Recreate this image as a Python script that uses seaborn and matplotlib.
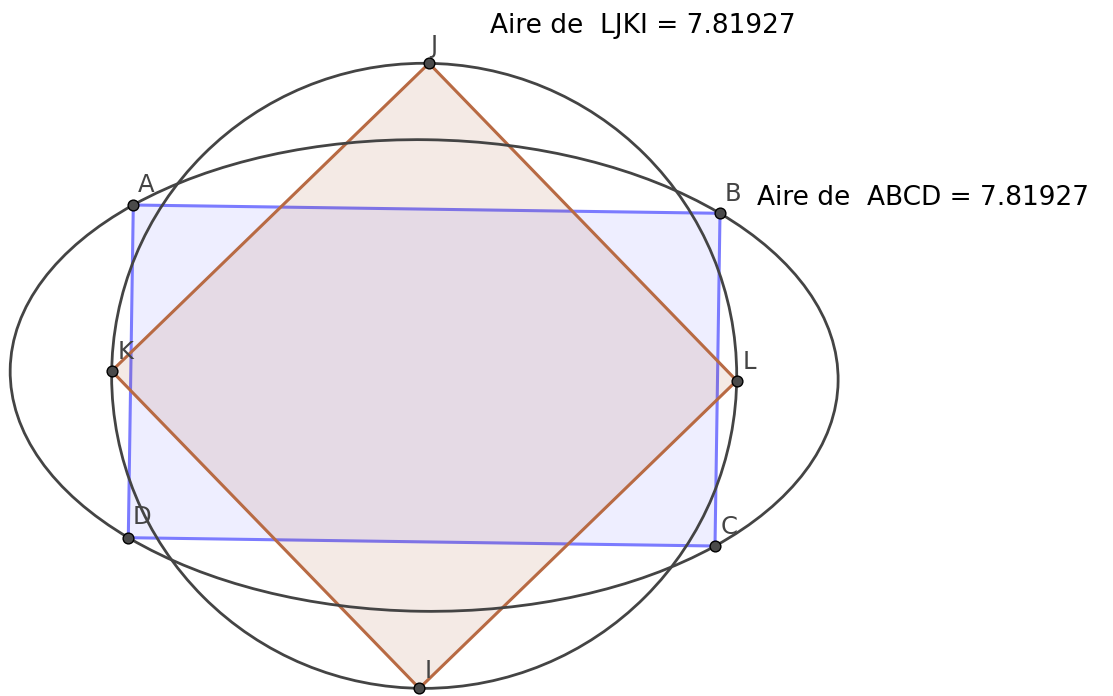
import numpy as np
import matplotlib
matplotlib.use("Agg")
import matplotlib.pyplot as plt
import seaborn as sns
from matplotlib.patches import Circle, Ellipse, Polygon

# point positions (pixel space, y pointing down)
rect_names = ["A", "B", "C", "D"]
rect_x = [133.3, 720.0, 715.0, 128.3]
rect_y = [205.0, 213.3, 546.0, 537.7]

square_names = ["L", "J", "K", "I"]
square_x = [736.7, 429.0, 111.7, 419.3]
square_y = [380.7, 63.3, 371.0, 688.3]

# label offsets (points) from each vertex
label_dx = {"A": 3, "B": 3, "C": 4, "D": 3, "L": 4, "J": 1, "K": 4, "I": 4}
label_dy = {"A": 6, "B": 5, "C": 5, "D": 6, "L": 5, "J": 4, "K": 5, "I": 4}

ellipse_width = 828.0
ellipse_angle = 0.81  # degrees, y axis is flipped

area_rect = 7.81927
area_square = 7.81927

sns.set_theme(style="white")
plt.rcParams["font.family"] = ["DejaVu Sans"]

fig = plt.figure(figsize=(11.13, 6.96), dpi=100)
ax = fig.add_axes([0, 0, 1, 1])
ax.set_xlim(0, 1113)
ax.set_ylim(696, 0)
ax.set_aspect("equal")
ax.axis("off")

# circle through the square's corners
cx, cy = np.mean(square_x), np.mean(square_y)
r = np.mean(np.hypot(np.array(square_x) - cx, np.array(square_y) - cy))

# ellipse through the rectangle's corners
ex, ey = np.mean(rect_x), np.mean(rect_y)
t = np.deg2rad(ellipse_angle)
du = (np.array(rect_x) - ex) * np.cos(t) + (np.array(rect_y) - ey) * np.sin(t)
dv = -(np.array(rect_x) - ex) * np.sin(t) + (np.array(rect_y) - ey) * np.cos(t)
a = ellipse_width / 2
b = np.mean(np.abs(dv) / np.sqrt(1 - (du / a) ** 2))

ax.add_patch(Polygon(np.column_stack([rect_x, rect_y]), closed=True,
                     facecolor=(0.35, 0.35, 1.0, 0.1), edgecolor="#7b7bff", lw=2.2, zorder=2))
ax.add_patch(Polygon(np.column_stack([square_x, square_y]), closed=True,
                     facecolor=(0.6, 0.2, 0.0, 0.1), edgecolor="#b86a43", lw=2.2, zorder=3))
ax.add_patch(Circle((cx, cy), r, fill=False, edgecolor="#444444", lw=2.0, zorder=4))
ax.add_patch(Ellipse((ex, ey), 2 * a, 2 * b, angle=ellipse_angle, fill=False,
                     edgecolor="#444444", lw=2.0, zorder=4))

names = rect_names + square_names
xs = rect_x + square_x
ys = rect_y + square_y
sns.scatterplot(x=xs, y=ys, s=60, color="#4a4a4a", edgecolor="black", linewidth=1.0,
                zorder=5, ax=ax, legend=False)
for n, x, y in zip(names, xs, ys):
    ax.annotate(n, (x, y), xytext=(label_dx[n], label_dy[n]), textcoords="offset points",
                fontsize=17.5, color="#444444", ha="left", va="bottom", zorder=6)

ax.text(490, 33, f"Aire de  LJKI = {area_square:.5f}", fontsize=19, color="black",
        ha="left", va="baseline")
ax.text(757, 205, f"Aire de  ABCD = {area_rect:.5f}", fontsize=19, color="black",
        ha="left", va="baseline")

fig.savefig("out.png", dpi=100)
